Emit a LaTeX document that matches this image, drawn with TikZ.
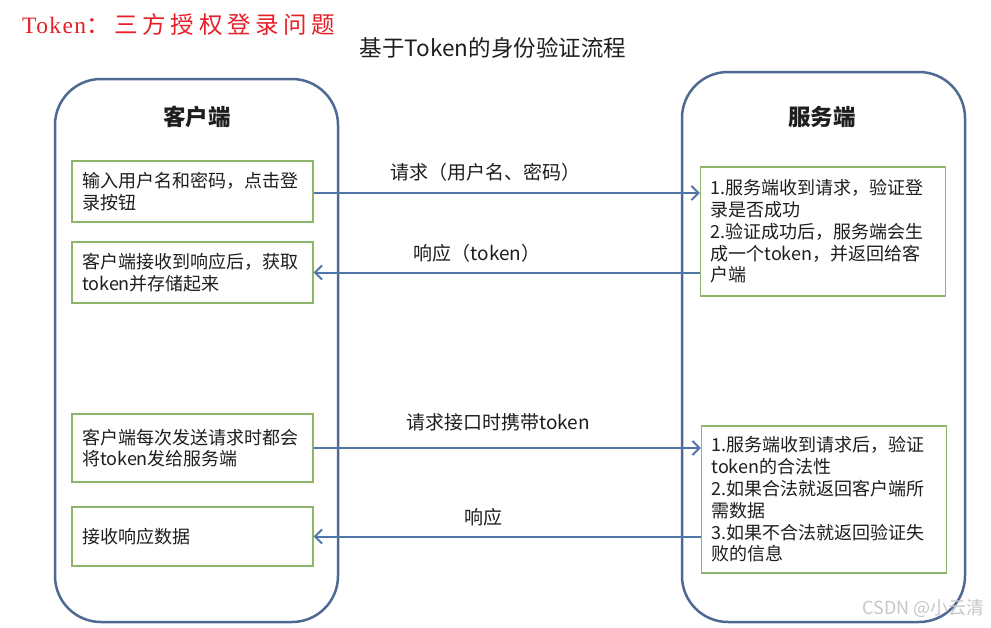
\documentclass[tikz,border=0pt]{standalone}
\usepackage{fontspec}
\usepackage{xcolor}
\setmainfont{Noto Sans CJK SC}
\newfontfamily\redlatin{Liberation Serif}[LetterSpace=6]
\newfontfamily\redcjk{Noto Sans CJK SC}[LetterSpace=20]
\usetikzlibrary{arrows.meta}
\definecolor{frameblue}{RGB}{78,106,146}
\definecolor{arrowblue}{RGB}{80,118,166}
\definecolor{boxgreen}{RGB}{143,181,107}
\definecolor{titlered}{RGB}{232,30,40}
\definecolor{inkdark}{RGB}{30,30,30}
\newcommand{\bodyfont}{\fontsize{18}{21.8}\selectfont}

\begin{document}
\begin{tikzpicture}[x=1pt, y=-1pt,
  every node/.style={text=inkdark, font=\bodyfont},
  cbox/.style={draw=boxgreen, line width=1.3pt, text width=221pt, inner xsep=10pt, inner ysep=0pt, align=left},
  sbox/.style={cbox, text width=225pt},
  msg/.style={draw=arrowblue, line width=2pt, -{Straight Barb[length=7pt,width=14pt,line width=2pt]}},
  lbl/.style={font=\fontsize{19}{22}\selectfont},
  side/.style={draw=frameblue, line width=2.5pt, rounded corners=46pt}]
  \useasboundingbox[fill=white] (0,0) rectangle (991,627);
  % headings
  \node[anchor=west, text=titlered, font=\fontsize{23.5}{26}\selectfont, inner sep=0pt] (red) at (22,25)
    {{\redlatin Token}{\redcjk ：三方授权登录问题}};
  \node[font=\fontsize{22.5}{26}\selectfont] (title) at (493,48) {基于Token的身份验证流程};
  % the two sides
  \draw[side] (55,79) rectangle (338,622);
  \draw[side] (682,72) rectangle (965,622);
  \node[font=\fontsize{22.5}{26}\selectfont\bfseries] (client) at (197,117) {客户端};
  \node[font=\fontsize{22.5}{26}\selectfont\bfseries] (server) at (822,117) {服务端};
  % client steps
  \node[cbox, minimum height=61pt] (c1) at (192.5,191.5) {输入用户名和密码，点击登\\录按钮};
  \node[cbox, minimum height=61pt] (c2) at (192.5,272.5) {客户端接收到响应后，获取\\token并存储起来};
  \node[cbox, minimum height=68pt] (c3) at (192.5,448) {客户端每次发送请求时都会\\将token发给服务端};
  \node[cbox, minimum height=59pt] (c4) at (192.5,536.5) {接收响应数据};
  % server steps
  \node[sbox, minimum height=129pt] (s1) at (823,231.5)
    {1.服务端收到请求，验证登\\录是否成功\\2.验证成功后，服务端会生\\成一个token，并返回给客\\户端};
  \node[sbox, minimum height=147pt] (s2) at (824,499.5)
    {1.服务端收到请求后，验证\\token的合法性\\2.如果合法就返回客户端所\\需数据\\3.如果不合法就返回验证失\\败的信息};
  % messages
  \draw[msg] (c1.east) ++(0,1.5) -- (s1.west |- 0,193);
  \draw[msg] (s1.west |- c2.east) -- (c2.east);
  \draw[msg] (c3.east) -- (s2.west |- c3.east);
  \draw[msg] (s2.west |- c4.east) -- (c4.east);
  \node[lbl] (m1) at (485,172) {请求（用户名、密码）};
  \node[lbl] (m2) at (477,253) {响应（token）};
  \node[lbl] (m3) at (498,422) {请求接口时携带token};
  \node[lbl] (m4) at (483,517) {响应};
  % watermark
  \node[text=black!22, font=\fontsize{18}{20}\selectfont, anchor=east] (mark) at (988,608) {CSDN @小云清};
\end{tikzpicture}
\end{document}
